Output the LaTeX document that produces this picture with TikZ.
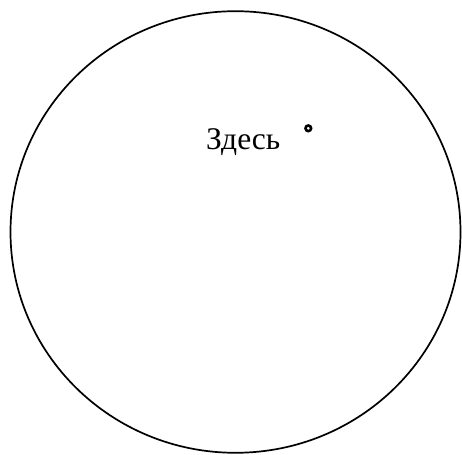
\documentclass[tikz,border=0pt]{standalone}
\usepackage{fontspec}
\setmainfont{Liberation Serif}
\tikzset{
  outline/.style={draw=black, line width=1.7pt},
  marker/.style={draw=black, line width=2.6pt},
  label/.style={inner sep=0pt, anchor=base west, font=\fontsize{31.5}{36}\selectfont}
}
\begin{document}
\begin{tikzpicture}[x=1pt,y=1pt]
\useasboundingbox (0,0) rectangle (462,454);
\draw[outline] (235.5,222) ellipse [x radius=225, y radius=220.8];
\draw[marker] (308.3,325.7) circle (2.8);
\node[label] (here) at (206,304) {Здесь};
\end{tikzpicture}
\end{document}
